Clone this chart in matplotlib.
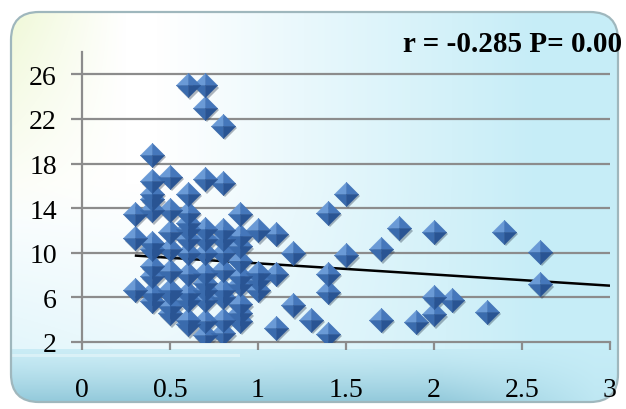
import matplotlib
matplotlib.use("Agg")
import matplotlib.pyplot as plt
import matplotlib.transforms as mtransforms
from matplotlib.patches import FancyBboxPatch
import numpy as np

# values
X_VALS = [
    0.6, 0.7, 0.7, 0.8, 0.4, 0.4, 0.4, 0.4, 0.4, 0.5, 0.5, 0.6, 0.6, 0.6, 0.6,
    0.7, 0.8, 0.9, 0.3, 0.3, 0.3, 0.4, 0.4, 0.4, 0.4, 0.4, 0.4, 0.5, 0.5, 0.5,
    0.5, 0.5, 0.5, 0.5, 0.6, 0.6, 0.6, 0.6, 0.6, 0.6, 0.6, 0.7, 0.7, 0.7, 0.7,
    0.7, 0.7, 0.7, 0.7, 0.7, 0.8, 0.8, 0.8, 0.8, 0.8, 0.8, 0.8, 0.8, 0.9, 0.9,
    0.9, 0.9, 0.9, 0.9, 0.9, 0.9, 1.0, 1.0, 1.0, 1.0, 1.1, 1.1, 1.1, 1.2, 1.2,
    1.3, 1.4, 1.4, 1.4, 1.4, 1.5, 1.5, 1.7, 1.7, 1.8, 1.9, 2.0, 2.0, 2.0, 2.1,
    2.3, 2.4, 2.6, 2.6,
]
Y_VALS = [
    25.0, 25.0, 23.0, 21.4, 18.8, 16.4, 15.3, 14.8, 13.8, 16.8, 13.8, 15.3, 13.6, 12.7, 12.1,
    16.6, 16.3, 13.5, 13.5, 11.3, 6.7, 10.9, 10.3, 8.8, 7.9, 6.4, 5.7, 11.9, 10.3, 8.4,
    6.7, 6.4, 5.2, 4.6, 11.2, 10.0, 8.1, 6.4, 5.8, 4.0, 3.6, 12.1, 11.2, 10.0, 8.2,
    7.3, 6.7, 5.8, 3.9, 2.6, 12.0, 11.2, 10.0, 8.5, 6.7, 6.0, 4.0, 2.8, 11.5, 10.6,
    9.3, 7.9, 7.2, 5.4, 4.6, 3.9, 12.0, 8.2, 7.6, 6.7, 11.7, 8.1, 3.3, 10.0, 5.3,
    4.0, 13.6, 8.1, 6.5, 2.75, 15.3, 9.8, 10.3, 4.0, 12.2, 3.8, 11.9, 6.0, 4.5, 5.8,
    4.7, 11.9, 10.1, 7.2,
]
TREND_SLOPE = -1.0
TREND_INTERCEPT = 10.05
X_TICKS = [0, 0.5, 1, 1.5, 2, 2.5, 3]
Y_TICKS = [2, 6, 10, 14, 18, 22, 26]
ANNOTATION = "r = -0.285 P= 0.00"

W, H = 626, 410
fig = plt.figure(figsize=(W / 100, H / 100), dpi=100)
fig.patch.set_facecolor("white")

# background panel with a soft gradient, clipped to a rounded box
bg_ax = fig.add_axes([0, 0, 1, 1])
bg_ax.set_xlim(0, W)
bg_ax.set_ylim(H, 0)
bg_ax.axis("off")

yy, xx = np.mgrid[0:H, 0:W].astype(float)
fx = xx / W
fy = yy / H
white = np.array([1.0, 1.0, 1.0])
cyan = np.array([0.78, 0.93, 0.97])
yellow = np.array([0.93, 0.97, 0.82])
teal = np.array([0.56, 0.78, 0.85])
# horizontal blend white -> cyan
t = np.clip((fx - 0.25) / 0.6, 0, 1)[..., None]
img = white * (1 - t) + cyan * t
# light cyan in the lower middle
t2 = (np.clip((fy - 0.45) / 0.4, 0, 1) * np.clip(1 - fx * 1.2, 0, 1))[..., None] * 0.5
img = img * (1 - t2) + cyan * t2
# yellow tint upper left
ty = (np.clip(1 - fx / 0.2, 0, 1) * np.clip(1 - fy / 0.55, 0, 1))[..., None]
img = img * (1 - ty) + yellow * ty
# bottom band: blue on the left, fading to white towards the right
fade = np.clip((fx - 0.7) / 0.25, 0, 1)[..., None]
tb0 = ((yy > 349) * 0.7)[..., None] * (1 - 0.8 * fade)
img = img * (1 - tb0) + cyan * 0.85 * tb0 + teal * 0.15 * tb0
tb = (np.clip((yy - 350) / 55, 0, 1) ** 1.3)[..., None] * (1 - 0.85 * fade)
img = img * (1 - tb) + teal * tb
# faint light streak inside the band
streak = ((np.abs(yy - 356) < 2) & (xx < 240))[..., None] * 0.35
img = img * (1 - streak) + white * streak

box = FancyBboxPatch((11, 13), 607, 390, boxstyle="round,pad=0,rounding_size=28",
                     facecolor="none", edgecolor="#9fb7bd", linewidth=1.6,
                     transform=bg_ax.transData, zorder=3)
im = bg_ax.imshow(img, extent=(0, W, H, 0), aspect="auto", zorder=1)
im.set_clip_path(box)
bg_ax.add_patch(box)

# plotting area
ax = fig.add_axes([82 / W, 1 - 343 / H, (610 - 82) / W, (343 - 53) / H])
ax.patch.set_alpha(0)
ax.set_xlim(0, 3)
ax.set_ylim(2, 28)
ax.set_xticks(X_TICKS)
ax.set_xticklabels([f"{v:g}" for v in X_TICKS])
ax.set_yticks(Y_TICKS)
ax.set_yticklabels([str(v) for v in Y_TICKS])
for s in ["top", "right"]:
    ax.spines[s].set_visible(False)
for s in ["left", "bottom"]:
    ax.spines[s].set_color("#8c8c8c")
    ax.spines[s].set_linewidth(1.6)
ax.tick_params(axis="y", direction="out", length=8, width=1.6, color="#8c8c8c", pad=10,
               labelsize=20)
ax.tick_params(axis="x", direction="out", length=6, width=1.6, color="#8c8c8c", pad=19,
               labelsize=20)
for lab in ax.get_xticklabels() + ax.get_yticklabels():
    lab.set_family("Liberation Serif")
for yv in Y_TICKS[1:]:
    ax.axhline(yv, color="#8c8c8c", linewidth=1.6, zorder=1)

# trend line
x_line = np.array([min(X_VALS), 3.0])
ax.plot(x_line, TREND_INTERCEPT + TREND_SLOPE * x_line, color="black", linewidth=1.8,
        zorder=2, solid_capstyle="butt")

# pyramid-shaped diamond markers
ms = 17.5
shadow_tr = mtransforms.offset_copy(ax.transData, fig=fig, x=2.0, y=-2.5, units="dots")
ax.plot(X_VALS, Y_VALS, linestyle="none", marker="D", markersize=ms / 1.41,
        color="#1f2f44", alpha=0.35, markeredgewidth=0, transform=shadow_tr, zorder=3)
facets = [
    ([(0, 1), (-1, 0), (0, 0), (0, 1)], "#6a9ad6"),
    ([(0, 1), (1, 0), (0, 0), (0, 1)], "#4577bb"),
    ([(-1, 0), (0, -1), (0, 0), (-1, 0)], "#3a6bad"),
    ([(1, 0), (0, -1), (0, 0), (1, 0)], "#295493"),
]
for verts, col in facets:
    ax.plot(X_VALS, Y_VALS, linestyle="none", marker=verts, markersize=ms,
            color=col, markeredgewidth=0.3, markeredgecolor=col, zorder=4)

fig.text(403 / W, 1 - 45 / H, ANNOTATION, ha="left", va="center", fontsize=21,
         fontweight="bold", family="Liberation Serif", color="black")

fig.savefig("out.png", dpi=100)
